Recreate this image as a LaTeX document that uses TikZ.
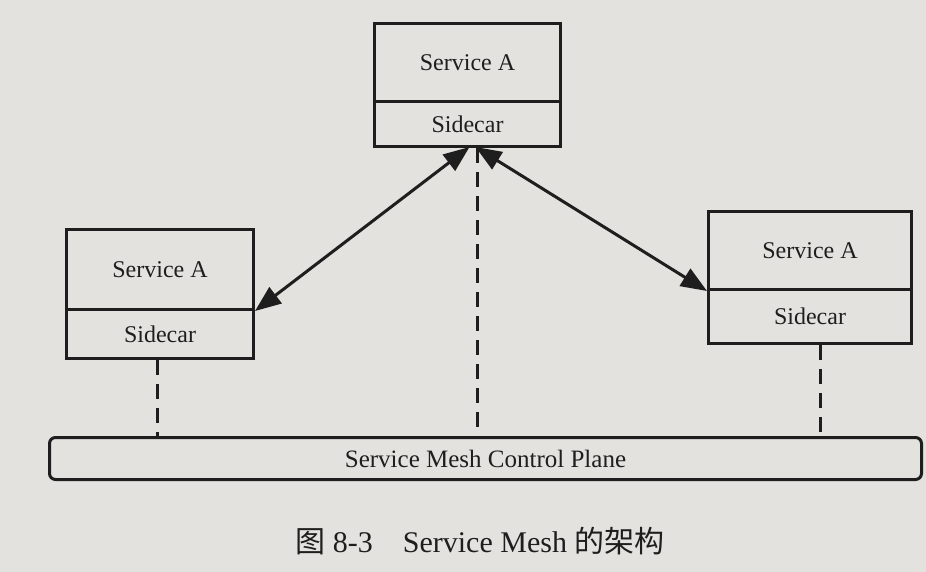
\documentclass[tikz,border=0pt]{standalone}
\usepackage{fontspec}
\setmainfont{Liberation Serif}
\newfontfamily\cjk{Noto Sans CJK SC}
\usetikzlibrary{arrows.meta,calc}
\definecolor{paper}{RGB}{228,226,222}
\definecolor{ink}{RGB}{30,30,30}
\begin{document}
\begin{tikzpicture}[x=1pt,y=-1pt,
  cell/.style={draw=ink, line width=3pt, minimum width=186pt, inner sep=0pt, font=\fontsize{24}{26}\selectfont, text=ink},
  wide/.style={draw=ink, line width=3pt, minimum width=203pt, inner sep=0pt, font=\fontsize{24}{26}\selectfont, text=ink},
  link/.style={draw=ink, line width=3pt, {Triangle[length=26pt,width=20pt]}-{Triangle[length=26pt,width=20pt]}},
  dashlink/.style={draw=ink, line width=3pt, dash pattern=on 15pt off 9pt}
]
\fill[paper] (0,0) rectangle (926,572);
\useasboundingbox (0,0) rectangle (926,572);

% top box
\node[cell, minimum height=78pt, anchor=north west] (topsvc) at (373,22) {Service A};
\node[cell, minimum height=45pt, anchor=north west] (topsc) at (373,100) {Sidecar};
% left box
\node[cell, minimum height=80pt, minimum width=187pt, anchor=north west] (leftsvc) at (65,228) {Service A};
\node[cell, minimum height=49pt, minimum width=187pt, anchor=north west] (leftsc) at (65,308) {Sidecar};
% right box
\node[wide, minimum height=78pt, anchor=north west] (rightsvc) at (707,210) {Service A};
\node[wide, minimum height=54pt, anchor=north west] (rightsc) at (707,288) {Sidecar};

% control plane
\node[draw=ink, line width=3pt, rounded corners=6pt, minimum width=872pt, minimum height=42pt,
      anchor=north west, inner sep=0pt, font=\fontsize{25}{27}\selectfont, text=ink] (bar) at (48,436) {Service Mesh Control Plane};

% arrows
\coordinate (tl) at ($(topsc.south)+(2,-1)$);
\coordinate (tr) at ($(topsc.south)+(8,-1)$);
\draw[link] (tl) -- (leftsvc.south east);
\draw[link] (tr) -- (rightsvc.south west);

% dashed lines
\coordinate (lt) at ($(leftsc.south)+(-3,0)$);
\coordinate (mt) at ($(topsc.south)+(10,0)$);
\coordinate (rt) at ($(rightsc.south)+(10,0)$);
\draw[dashlink] (lt) -- (lt |- bar.north);
\draw[dashlink] (mt) -- (mt |- bar.north);
\draw[dashlink] (rt) -- (rt |- bar.north);

% caption
\node[font=\fontsize{30}{32}\selectfont, text=ink, inner sep=0pt] (cap) at (480,541) {{\cjk 图} 8-3\quad Service Mesh {\cjk 的架构}};
\end{tikzpicture}
\end{document}
